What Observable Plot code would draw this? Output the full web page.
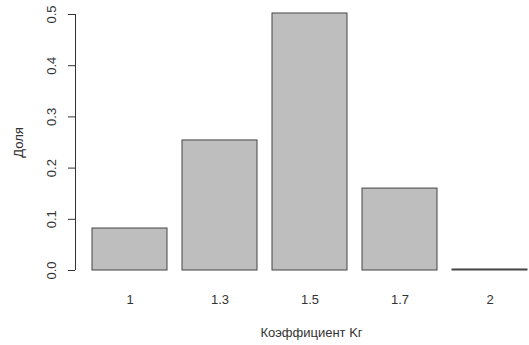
<!DOCTYPE html>
<html>
<head>
<meta charset="utf-8">
<script src="https://cdn.jsdelivr.net/npm/d3@7"></script>
<script src="https://cdn.jsdelivr.net/npm/@observablehq/plot@0.6"></script>
<style>
  html, body { margin: 0; padding: 0; background: #fff; }
  svg { display: block; }
</style>
</head>
<body>
<div id="chart"></div>
<script>
const categories = ["1", "1.3", "1.5", "1.7", "2"];
const shares = [0.082, 0.254, 0.502, 0.160, 0.002];
const yTicks = [0, 0.1, 0.2, 0.3, 0.4, 0.5];
const yTickLabels = ["0.0", "0.1", "0.2", "0.3", "0.4", "0.5"];
const xTitle = "Коэффициент Kг";
const yTitle = "Доля";

const data = categories.map((c, i) => ({cat: c, value: shares[i]}));
const ticks = yTicks.map((v, i) => ({v, label: yTickLabels[i]}));

const font = "Liberation Sans, Arial, Helvetica, sans-serif";
const ink = "#333";
const W = 529, ML = 75, MR = 0;

const chart = Plot.plot({
  width: W,
  height: 345,
  marginLeft: ML,
  marginRight: MR,
  marginTop: 14,
  marginBottom: 75,
  style: {fontFamily: font, fontSize: "13px", color: ink, background: "#fff"},
  x: {type: "band", domain: categories, range: [92, 529], paddingInner: 0.171, paddingOuter: 0, align: 0},
  y: {domain: [0, 0.5]},
  marks: [
    Plot.barY(data, {x: "cat", y: "value", fill: "#bebebe", stroke: "#444", strokeWidth: 1}),
    Plot.axisX({tickSize: 0, tickPadding: 24, fontSize: 13, label: null, fill: ink}),
    Plot.axisY({ticks: yTicks, tickSize: 7, tickFormat: () => "", label: null, stroke: ink}),
    Plot.ruleX([0], {x: null, y1: 0, y2: 0.5, dx: -((W - ML - MR) / 2), stroke: ink}),
    Plot.text(ticks, {y: "v", text: "label", frameAnchor: "left", dx: -24, rotate: -90, textAnchor: "middle", lineAnchor: "middle", fontSize: 13, fill: ink}),
    Plot.text([yTitle], {frameAnchor: "left", dx: -57, rotate: -90, textAnchor: "middle", lineAnchor: "middle", fontSize: 13, fill: ink}),
    Plot.text([xTitle], {frameAnchor: "bottom", dx: 9, dy: 62, textAnchor: "middle", lineAnchor: "middle", fontSize: 13, fill: ink})
  ]
});
document.getElementById("chart").appendChild(chart);
</script>
</body>
</html>
